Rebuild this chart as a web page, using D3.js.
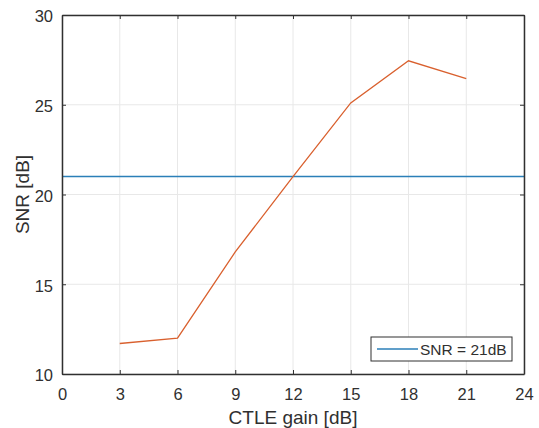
<!DOCTYPE html>
<html><head><meta charset="utf-8">
<script src="https://cdn.jsdelivr.net/npm/d3@7"></script>
<style>body{margin:0;background:#fff}svg{display:block}text{font-family:"Liberation Sans",Arial,sans-serif}</style>
</head><body>
<script>
const gains = [3, 6, 9, 12, 15, 18, 21];
const snr = [11.7, 12.0, 16.8, 21.0, 25.1, 27.45, 26.45];
const threshold = 21;
const xTicks = [0, 3, 6, 9, 12, 15, 18, 21, 24];
const yTicks = [10, 15, 20, 25, 30];
const legendLabel = "SNR = 21dB";
const xLabel = "CTLE gain [dB]";
const yLabel = "SNR [dB]";

const W = 539, H = 428;
const m = {l: 62, t: 15, r: 15, b: 54};
const svg = d3.select("body").append("svg").attr("width", W).attr("height", H);
const x = d3.scaleLinear().domain([0, 24]).range([m.l, W - m.r]);
const y = d3.scaleLinear().domain([10, 30]).range([H - m.b, m.t]);
const axisCol = "#303030";

// grid
const g = svg.append("g");
g.selectAll(".gx").data(xTicks).join("line")
  .attr("x1", d => x(d)).attr("x2", d => x(d)).attr("y1", y(10)).attr("y2", y(30))
  .attr("stroke", "#e8e8e8").attr("stroke-width", 1);
g.selectAll(".gy").data(yTicks).join("line")
  .attr("y1", d => y(d)).attr("y2", d => y(d)).attr("x1", x(0)).attr("x2", x(24))
  .attr("stroke", "#e8e8e8").attr("stroke-width", 1);

// data lines
svg.append("line").attr("x1", x(0)).attr("x2", x(24)).attr("y1", y(threshold)).attr("y2", y(threshold))
  .attr("stroke", "#2b7fb8").attr("stroke-width", 1.6);
svg.append("path").datum(gains.map((d, i) => [d, snr[i]]))
  .attr("d", d3.line().x(d => x(d[0])).y(d => y(d[1])))
  .attr("fill", "none").attr("stroke", "#d9602e").attr("stroke-width", 1.3);

// axes
function styleAxis(sel, hideText) {
  sel.select(".domain").attr("stroke", axisCol).attr("stroke-width", 1.5);
  sel.selectAll(".tick line").attr("stroke", axisCol);
  sel.selectAll(".tick text").attr("fill", axisCol).style("font-size", "16.5px");
  if (hideText) sel.selectAll(".tick text").remove();
}
const ax = svg.append("g").attr("transform", `translate(0,${y(10)})`)
  .call(d3.axisBottom(x).tickValues(xTicks).tickSize(-4).tickSizeOuter(0).tickPadding(14.5));
styleAxis(ax);
const axT = svg.append("g").attr("transform", `translate(0,${y(30)})`)
  .call(d3.axisTop(x).tickValues(xTicks).tickSize(-4).tickSizeOuter(0));
styleAxis(axT, true);
const ay = svg.append("g").attr("transform", `translate(${x(0)},0)`)
  .call(d3.axisLeft(y).tickValues(yTicks).tickSize(-4).tickSizeOuter(0).tickPadding(9));
styleAxis(ay);
ay.selectAll(".tick text").attr("dy", "0.42em");
const ayR = svg.append("g").attr("transform", `translate(${x(24)},0)`)
  .call(d3.axisRight(y).tickValues(yTicks).tickSize(-4).tickSizeOuter(0));
styleAxis(ayR, true);

// labels
svg.append("text").attr("x", (x(0) + x(24)) / 2).attr("y", 424).attr("text-anchor", "middle")
  .attr("fill", axisCol).style("font-size", "19px").text(xLabel);
svg.append("text").attr("transform", `translate(29,${(y(10) + y(30)) / 2}) rotate(-90)`)
  .attr("text-anchor", "middle").attr("fill", axisCol).style("font-size", "19px").text(yLabel);

// legend
const lg = svg.append("g");
lg.append("rect").attr("x", 371).attr("y", 337).attr("width", 141).attr("height", 24)
  .attr("fill", "#fff").attr("stroke", axisCol).attr("stroke-width", 1);
lg.append("line").attr("x1", 377).attr("x2", 418).attr("y1", 349).attr("y2", 349)
  .attr("stroke", "#2b7fb8").attr("stroke-width", 1.6);
lg.append("text").attr("x", 420).attr("y", 355).attr("fill", axisCol).style("font-size", "15.5px").text(legendLabel);
</script>
</body></html>
